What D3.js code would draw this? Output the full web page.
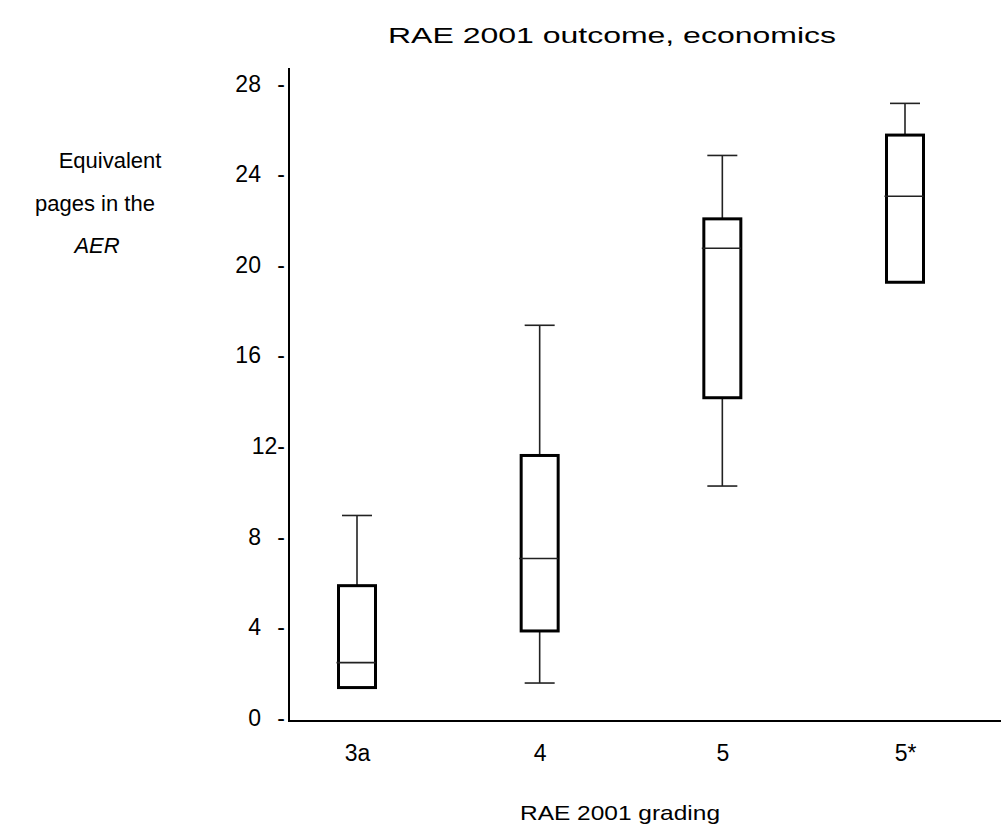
<!DOCTYPE html>
<html lang="en">
<head>
    <meta charset="UTF-8">
    <title>RAE 2001 outcome, economics</title>
    <style>
        body { margin: 0; background: #fff; }
        text { font-family: "Liberation Sans", Arial, sans-serif; fill: #000; }
        .box { fill: #fff; stroke: #000; stroke-width: 3px; }
        .whisker, .median { stroke: #222; stroke-width: 1.6px; }
        .axisline { stroke: #000; stroke-width: 2px; }
    </style>
</head>
<body>
    <div id="chart"></div>

    <script src="https://d3js.org/d3.v7.min.js"></script>
    <script>
        // Datos
        const grades = ["3a", "4", "5", "5*"];
        const whiskerLow = [null, 1.5, 10.2, null];
        const q1 = [1.3, 3.8, 14.1, 19.2];
        const median = [2.4, 7.0, 20.7, 23.0];
        const q3 = [5.8, 11.55, 22.0, 25.7];
        const whiskerHigh = [8.9, 17.3, 24.8, 27.1];
        const yTicks = [0, 4, 8, 12, 16, 20, 24, 28];
        const yTickLabels = ["0 -", "4 -", "8 -", "12-", "16 -", "20 -", "24 -", "28 -"];

        document.addEventListener("DOMContentLoaded", function() {
            const width = 1001, height = 825;
            const axisX = 289, axisY = 721;

            const svg = d3.select("#chart").append("svg")
                .attr("width", width)
                .attr("height", height);

            // Escalas
            const x = d3.scalePoint()
                .domain(grades)
                .range([357, 905]);

            const y = d3.scaleLinear()
                .domain([0, 28])
                .range([717, 83]);

            const boxW = 37, capW = 30;

            const data = grades.map((g, i) => ({
                g, lo: whiskerLow[i], q1: q1[i], med: median[i], q3: q3[i], hi: whiskerHigh[i]
            }));

            // Ejes (líneas)
            svg.append("line").attr("class", "axisline")
                .attr("x1", axisX).attr("x2", axisX)
                .attr("y1", 68).attr("y2", axisY + 1);
            svg.append("line").attr("class", "axisline")
                .attr("x1", axisX).attr("x2", width)
                .attr("y1", axisY).attr("y2", axisY);

            // Etiquetas del eje y
            const yAxis = d3.axisLeft(y)
                .tickValues(yTicks)
                .tickSize(0)
                .tickPadding(0)
                .tickFormat((d, i) => yTickLabels[i]);

            const gy = svg.append("g")
                .attr("transform", `translate(${axisX - 4},0)`)
                .call(yAxis);
            gy.select(".domain").remove();
            gy.selectAll("text")
                .attr("font-size", 23)
                .attr("font-family", null)
                .style("white-space", "pre")
                .style("word-spacing", "10px")
                .attr("dy", "0.36em");

            // Etiquetas del eje x
            const xAxis = d3.axisBottom(x).tickSize(0).tickPadding(0);
            const gx = svg.append("g")
                .attr("transform", `translate(0,${axisY + 24})`)
                .call(xAxis);
            gx.select(".domain").remove();
            gx.selectAll("text")
                .attr("font-size", 23)
                .attr("font-family", null);

            // Cajas
            const boxes = svg.selectAll(".grade")
                .data(data)
                .join("g")
                .attr("class", "grade");

            boxes.append("line").attr("class", "whisker")
                .attr("x1", d => x(d.g)).attr("x2", d => x(d.g))
                .attr("y1", d => y(d.hi)).attr("y2", d => y(d.q3));
            boxes.append("line").attr("class", "whisker")
                .attr("x1", d => x(d.g) - capW / 2).attr("x2", d => x(d.g) + capW / 2)
                .attr("y1", d => y(d.hi)).attr("y2", d => y(d.hi));

            const low = boxes.filter(d => d.lo !== null);
            low.append("line").attr("class", "whisker")
                .attr("x1", d => x(d.g)).attr("x2", d => x(d.g))
                .attr("y1", d => y(d.q1)).attr("y2", d => y(d.lo));
            low.append("line").attr("class", "whisker")
                .attr("x1", d => x(d.g) - capW / 2).attr("x2", d => x(d.g) + capW / 2)
                .attr("y1", d => y(d.lo)).attr("y2", d => y(d.lo));

            boxes.append("rect").attr("class", "box")
                .attr("x", d => x(d.g) - boxW / 2)
                .attr("width", boxW)
                .attr("y", d => y(d.q3))
                .attr("height", d => y(d.q1) - y(d.q3));

            boxes.append("line").attr("class", "median")
                .attr("x1", d => x(d.g) - boxW / 2 - 2).attr("x2", d => x(d.g) + boxW / 2)
                .attr("y1", d => y(d.med)).attr("y2", d => y(d.med));

            // Títulos
            svg.append("text")
                .attr("x", 612).attr("y", 43)
                .attr("text-anchor", "middle")
                .attr("font-size", 22)
                .attr("textLength", 448)
                .attr("lengthAdjust", "spacingAndGlyphs")
                .text("RAE 2001 outcome, economics");

            svg.append("text")
                .attr("x", 620).attr("y", 820)
                .attr("text-anchor", "middle")
                .attr("font-size", 21)
                .attr("textLength", 200)
                .attr("lengthAdjust", "spacingAndGlyphs")
                .text("RAE 2001 grading");

            const ylab = svg.append("text")
                .attr("text-anchor", "middle")
                .attr("font-size", 22);
            ylab.append("tspan").attr("x", 110).attr("y", 168).text("Equivalent");
            ylab.append("tspan").attr("x", 95).attr("y", 211).text("pages in the");
            ylab.append("tspan").attr("x", 97).attr("y", 253)
                .attr("font-style", "italic").text("AER");
        });
    </script>
</body>
</html>
